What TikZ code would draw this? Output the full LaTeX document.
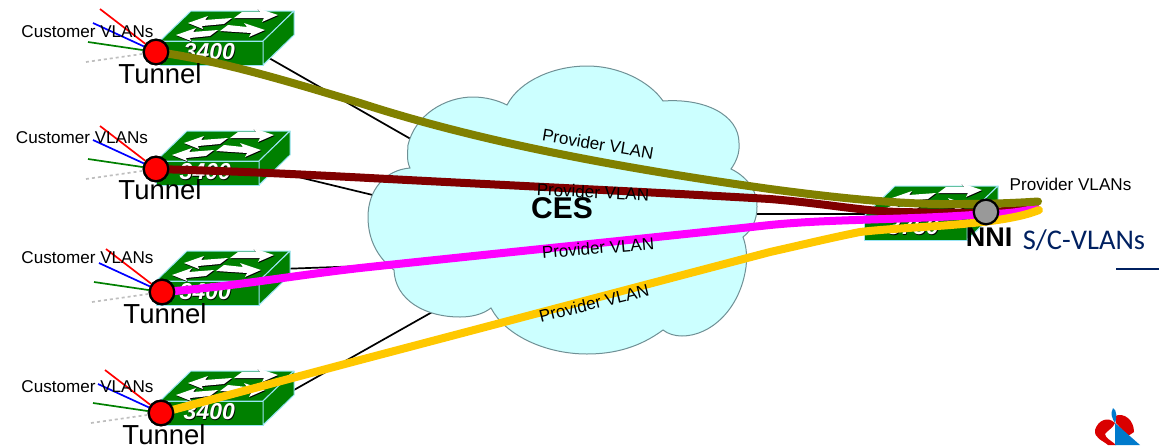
\documentclass[tikz,border=0pt]{standalone}
\usepackage{fontspec}
\setmainfont{Liberation Sans}
\newfontfamily\calib{Carlito}
\definecolor{swgreen}{HTML}{008000}
\definecolor{swedge}{HTML}{99E5F5}
\definecolor{cloudfill}{HTML}{CCFFFF}
\definecolor{cloudedge}{HTML}{6F9095}
\definecolor{olivel}{HTML}{808000}
\definecolor{darkredl}{HTML}{800000}
\definecolor{magental}{HTML}{FF00FF}
\definecolor{goldl}{HTML}{FFC800}
\definecolor{navyt}{HTML}{002060}
\tikzset{
  swface/.style={fill=swgreen,draw=swedge,line width=1pt,line join=round},
  swlabel/.style={text=white,font=\fontsize{23}{25}\selectfont\bfseries\itshape,inner sep=0},
  swshadow/.style={text=black,font=\fontsize{23}{25}\selectfont\bfseries\itshape,inner sep=0},
  trunk/.style={line width=8pt,line cap=round,line join=round},
  link/.style={draw=black,line width=1.7pt},
  cust/.style={anchor=base,inner sep=0,font=\fontsize{17.1}{19}\selectfont},
  tunnel/.style={anchor=base,inner sep=0,font=\fontsize{27.5}{29}\selectfont},
  prov/.style={inner sep=0,font=\fontsize{17}{19}\selectfont},
  endpt/.style={circle,draw=black,line width=2.2pt,minimum size=24.5pt,inner sep=0},
  vlan/.style={line width=1.7pt},
}
% flat arrows on a switch top: tail x,y  tip x,y in local coordinates
\newcommand{\swarrowright}[5][white]{%
  \fill[#1] (#2,#3-3) -- (#4-18,#5-3) -- (#4-21,#5-7) -- (#4,#5) -- (#4-16,#5+7) -- (#4-14,#5+3) -- (#2-8,#3+3) -- cycle;}
\newcommand{\swarrowleft}[5][white]{%
  \fill[#1] (#2,#3-3) -- (#4+17,#5-3) -- (#4+20,#5-7) -- (#4,#5) -- (#4+15,#5+6) -- (#4+14,#5+3) -- (#2-8,#3+3) -- cycle;}
\newcommand{\switchbody}[4]{% x y name label
  \begin{scope}[shift={(#1,#2)}]
    \coordinate (#3) at (51,12);
    \path[swface] (0,0) -- (31,-30) -- (134,-30) -- (103,0) -- cycle;
    \path[swface] (0,0) -- (103,0) -- (103,24) -- (0,24) -- cycle;
    \path[swface] (103,0) -- (134,-30) -- (134,-6) -- (103,24) -- cycle;
    \begin{scope}[shift={(.6,1)}]
    \swarrowleft[black]{72}{-20}{28}{-18}
    \swarrowright[black]{82}{-26}{118}{-26}
    \swarrowleft[black]{58}{-8}{16}{-6}
    \swarrowright[black]{68}{-13}{105}{-11}
    \end{scope}
    \swarrowleft{72}{-20}{28}{-18}
    \swarrowright{82}{-26}{118}{-26}
    \swarrowleft{58}{-8}{16}{-6}
    \swarrowright{68}{-13}{105}{-11}
    \node[swshadow] (#3s) at (50,12) {#4};
    \node[swlabel] (#3t) at (49.3,11) {#4};
  \end{scope}}
\begin{document}
\begin{tikzpicture}[x=1pt,y=-1pt]
\useasboundingbox (0,0) rectangle (1159,445);
% links (behind the cloud)
\coordinate (c1) at (430,150);
\coordinate (c2) at (410,204);
\coordinate (c3) at (420,264);
\coordinate (c4) at (450,302);
\coordinate (c5) at (740,214);
\coordinate (s1) at (262,54);
\coordinate (s2) at (290,175);
\coordinate (s3) at (280,269);
\coordinate (s4) at (262,408);
\coordinate (s5) at (870,214);
\draw[link] (s1) -- (c1);
\draw[link] (s2) -- (c2);
\draw[link] (s3) -- (c3);
\draw[link] (s4) -- (c4);
\draw[link] (s5) -- (c5);
% cloud
\path[fill=cloudfill,draw=cloudedge,line width=1pt]
  (507,105) .. controls (520,80) and (555,66) .. (587,66)
  .. controls (620,66) and (650,82) .. (663,101)
  .. controls (705,98) and (739,115) .. (739,143)
  .. controls (740,153) and (736,162) .. (731,169)
  .. controls (750,178) and (758,195) .. (757,207)
  .. controls (757,220) and (752,230) .. (743,237)
  .. controls (747,248) and (747,258) .. (746,267)
  .. controls (740,310) and (710,336) .. (682,336)
  .. controls (675,336) and (668,334) .. (663,330)
  .. controls (640,347) and (615,354) .. (587,354)
  .. controls (545,354) and (505,335) .. (491,308)
  .. controls (482,315) and (470,317) .. (460,317)
  .. controls (425,317) and (395,300) .. (394,270)
  .. controls (378,258) and (368,240) .. (368,217)
  .. controls (368,190) and (385,170) .. (410,168)
  .. controls (406,160) and (408,150) .. (408,145)
  .. controls (415,115) and (445,97) .. (473,97)
  .. controls (485,97) and (497,100) .. (507,105) -- cycle;
% switches
\switchbody{160}{41}{sw1}{3400}
\switchbody{156}{161}{sw2}{3400}
\switchbody{156}{281}{sw3}{3400}
\switchbody{160}{401}{sw4}{3400}
\switchbody{864}{216}{sw5}{3750}
% end points
\node[endpt,fill=red] (t1) at (156,52) {};
\node[endpt,fill=red] (t2) at (156,169) {};
\node[endpt,fill=red] (t3) at (162,292) {};
\node[endpt,fill=red] (t4) at (161,413) {};
\node[endpt,fill=black!40] (nni) at (986,212) {};
% free ends of VLAN fans
\foreach \n/\x/\y in {t1/156/52,t2/156/169,t3/162/292,t4/161/413}{
  \coordinate (\n r) at (\x-56,\y-43);
  \coordinate (\n b) at (\x-63,\y-29);
  \coordinate (\n g) at (\x-68,\y-10);
  \coordinate (\n d) at (\x-70,\y+10);
  \draw[vlan,red] (\n r) -- (\n);
  \draw[vlan,blue] (\n b) -- (\n);
  \draw[vlan,green!50!black] (\n g) -- (\n);
  \draw[vlan,black!25,dashed] (\n d) -- (\n);
}
\coordinate (e1) at (1038,201.5);
\coordinate (e2) at (1035,207);
\coordinate (e3) at (1036,208);
\coordinate (e4) at (1039,210);
% trunks
\draw[trunk,darkredl] (t2.center) .. controls (260,172) and (310,175) .. (360,177.5)
  .. controls (500,185) and (650,192) .. (770,199)
  .. controls (830,204) and (860,211) .. (900,212)
  .. controls (950,213) and (1000,214) .. (e2);
\draw[trunk,magental] (t3.center) .. controls (230,287) and (290,276) .. (360,268)
  .. controls (500,253) and (650,238) .. (770,225)
  .. controls (830,219) and (900,220) .. (973,215)
  .. controls (1000,214) and (1020,213) .. (e3);
\draw[trunk,goldl] (t4.center) -- (360,360) -- (770,252)
  .. controls (810,243) and (830,238) .. (860,232)
  .. controls (910,226) and (1000,226) .. (e4);
\draw[trunk,olivel] (t1.center) .. controls (220,60) and (300,85) .. (360,103)
  .. controls (480,142) and (620,168) .. (770,189)
  .. controls (830,197) and (900,205) .. (960,204)
  .. controls (990,204) and (1015,203) .. (e1);
% end point circles on top
\node[endpt,fill=red] at (t1) {};
\node[endpt,fill=red] at (t2) {};
\node[endpt,fill=red] at (t3) {};
\node[endpt,fill=red] at (t4) {};
\node[endpt,fill=black!40] at (nni) {};
% labels
\node[cust] (l1) at (87.5,37) {Customer VLANs};
\node[cust] (l2) at (82,143) {Customer VLANs};
\node[cust] (l3) at (87.5,263) {Customer VLANs};
\node[cust] (l4) at (87.5,392) {Customer VLANs};
\node[tunnel] (u1) at (160,83) {Tunnel};
\node[tunnel] (u2) at (160,199) {Tunnel};
\node[tunnel] (u3) at (165,323) {Tunnel};
\node[tunnel] (u4) at (164,444) {Tunnel};
\node[prov,rotate=-9.5] (p1) at (598,144) {Provider VLAN};
\node[prov,rotate=-3] (p2) at (593,192) {Provider VLAN};
\node[prov,rotate=5] (p3) at (598,248) {Provider VLAN};
\node[prov,rotate=14] (p4) at (594,303) {Provider VLAN};
\node[anchor=base,inner sep=0,font=\fontsize{30}{32}\selectfont\bfseries] (ces) at (562,218) {CES};
\node[anchor=base,inner sep=0,font=\fontsize{27}{29}\selectfont\bfseries] (nnil) at (989,246) {NNI};
\node[cust] (pv) at (1070.5,190) {Provider VLANs};
\node[anchor=base,inner sep=0,text=navyt,font=\calib\fontsize{28.5}{30}\selectfont] (sc) at (1084,249) {S/C-VLANs};
\coordinate (na) at (1116,269);
\coordinate (nb) at (1159,269);
\draw[navyt,line width=1.7pt] (na) -- (nb);
% logo
\path[fill=red!85!black] (1115,423) .. controls (1108,416) and (1098,420) .. (1095,430)
  .. controls (1094,438) and (1102,440) .. (1108,445) -- (1116,445) .. controls (1112,441) and (1105,438) .. (1105,434)
  .. controls (1108,430) and (1113,428) .. (1115,423) -- cycle;
\path[fill=red!85!black] (1115,416) .. controls (1124,412) and (1134,420) .. (1134,432) -- (1128,436) -- (1116,423) -- cycle;
\path[fill=blue!40!cyan!80!black] (1115,423) -- (1140,445) -- (1115,445) -- cycle;
\path[fill=blue!40!cyan!80!black] (1113,408) .. controls (1117,410) and (1117,418) .. (1115,423) .. controls (1112,418) and (1110,414) .. (1113,408) -- cycle;
\end{tikzpicture}
\end{document}
